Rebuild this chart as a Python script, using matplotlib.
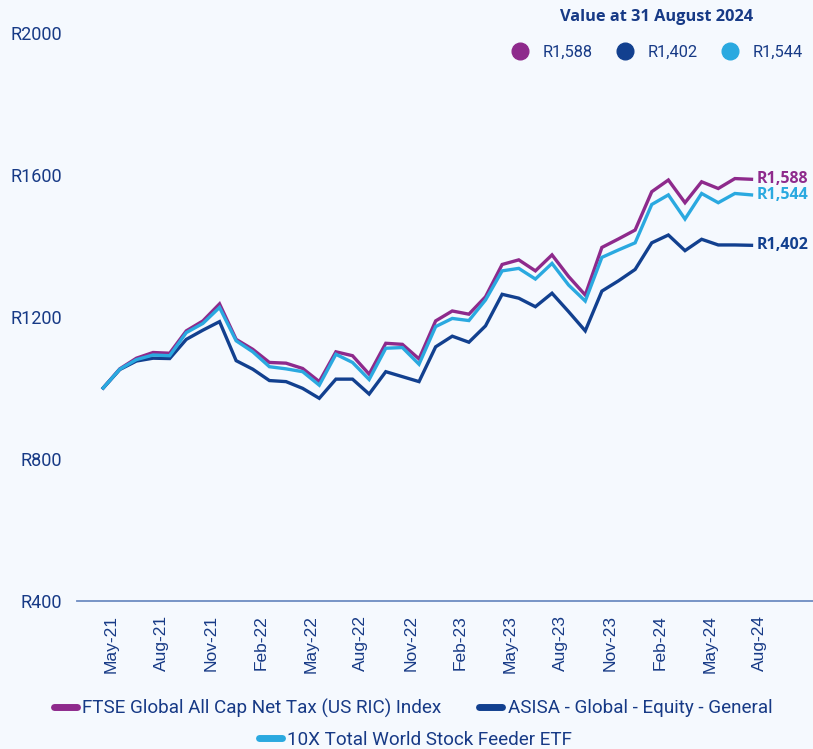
import matplotlib.pyplot as plt
from matplotlib.lines import Line2D

months = ['May-21', 'Jun-21', 'Jul-21', 'Aug-21', 'Sep-21', 'Oct-21', 'Nov-21', 'Dec-21',
          'Jan-22', 'Feb-22', 'Mar-22', 'Apr-22', 'May-22', 'Jun-22', 'Jul-22', 'Aug-22',
          'Sep-22', 'Oct-22', 'Nov-22', 'Dec-22', 'Jan-23', 'Feb-23', 'Mar-23', 'Apr-23',
          'May-23', 'Jun-23', 'Jul-23', 'Aug-23', 'Sep-23', 'Oct-23', 'Nov-23', 'Dec-23',
          'Jan-24', 'Feb-24', 'Mar-24', 'Apr-24', 'May-24', 'Jun-24', 'Jul-24', 'Aug-24']

ftse = [1000, 1054, 1084, 1100, 1098, 1161, 1189, 1237, 1137, 1109, 1072, 1070, 1055, 1018,
        1102, 1091, 1039, 1126, 1123, 1082, 1189, 1217, 1208, 1257, 1348, 1361, 1330, 1375,
        1314, 1262, 1396, 1420, 1445, 1553, 1586, 1522, 1581, 1562, 1590, 1588]
asisa = [1000, 1052, 1076, 1084, 1083, 1137, 1163, 1187, 1077, 1053, 1021, 1018, 999, 971,
         1025, 1025, 983, 1046, 1032, 1018, 1116, 1146, 1129, 1175, 1264, 1253, 1229, 1267,
         1215, 1161, 1273, 1302, 1334, 1409, 1431, 1387, 1419, 1403, 1403, 1402]
etf = [1000, 1053, 1080, 1093, 1091, 1156, 1182, 1227, 1133, 1102, 1060, 1054, 1046, 1008,
       1095, 1072, 1024, 1112, 1114, 1067, 1173, 1196, 1190, 1248, 1330, 1337, 1307, 1351,
       1290, 1245, 1368, 1389, 1409, 1517, 1544, 1476, 1548, 1522, 1548, 1544]

names = ['FTSE Global All Cap Net Tax (US RIC) Index',
         'ASISA - Global - Equity - General',
         '10X Total World Stock Feeder ETF']
yticks = [400, 800, 1200, 1600, 2000]

purple = '#8E2A8C'
navy = '#12408F'
cyan = '#2AA9E0'
text_col = '#173A86'
bg = '#F5F9FE'

plt.rcParams['font.family'] = ['Roboto', 'DejaVu Sans']

fig = plt.figure(figsize=(8.13, 7.49), dpi=100, facecolor=bg)
ax = fig.add_axes([0.095, 0.1976, 0.905, 0.7583], facecolor=bg)

x = list(range(len(months)))
series = [(ftse, purple), (asisa, navy), (etf, cyan)]
for (vals, col), name in zip(series, names):
    ax.plot(x, vals, color=col, lw=2.4, solid_joinstyle='miter', label=name)

ax.set_xlim(-1.56, 42.7)
ax.set_ylim(400, 2000)
ax.set_yticks(yticks)
ax.set_yticklabels([f'R{v}' for v in yticks], fontsize=13, color=text_col)
# labels sit a little right of the data points, as in the original
ax.set_xticks([i + 0.5 for i in x[::3]])
ax.set_xticklabels(months[::3], rotation=90, fontsize=12.5, color=text_col,
                   family=['Liberation Sans', 'DejaVu Sans'])
ax.tick_params(axis='x', length=0, pad=10)
ax.tick_params(axis='y', length=0, pad=11)
for s in ['top', 'right', 'left']:
    ax.spines[s].set_visible(False)
ax.spines['bottom'].set_color('#6D8CC2')
ax.spines['bottom'].set_linewidth(1.3)

# end labels
for vals, col in series:
    ax.annotate(f'R{vals[-1]:,}', (x[-1], vals[-1]), xytext=(4, 0), textcoords='offset points',
                va='center', ha='left', fontsize=11.5, fontweight='bold', color=col,
                family=['Open Sans', 'DejaVu Sans'])

# value legend top right
fig.text(657 / 813, 1 - 17 / 749, 'Value at 31 August 2024', ha='center', va='center',
         fontsize=11.8, fontweight='bold', color=text_col,
         family=['Open Sans', 'DejaVu Sans'])
handles = [Line2D([], [], ls='', marker='o', ms=12, color=col) for _, col in series]
ax.legend(handles, [f'R{v[-1]:,}' for v, _ in series], ncol=3, loc='center right',
          bbox_to_anchor=(1.0 - 2 / 813, 1 - 52 / 749), bbox_transform=fig.transFigure,
          frameon=False, handletextpad=0.4, columnspacing=0.95, fontsize=11.8,
          labelcolor=text_col, borderpad=0)

# bottom legend
lh = [Line2D([], [], color=col, lw=5, solid_capstyle='round') for _, col in series]
fig.legend(lh[:2], names[:2], ncol=2, loc='center', bbox_to_anchor=(0.508, 1 - 708 / 749),
           frameon=False, fontsize=13.6, labelcolor=text_col, handlelength=1.2,
           handletextpad=0.3, columnspacing=2.0, borderpad=0)
fig.legend(lh[2:], names[2:], loc='center', bbox_to_anchor=(0.511, 1 - 740 / 749),
           frameon=False, fontsize=13.6, labelcolor=text_col, handlelength=1.2,
           handletextpad=0.3, borderpad=0)

fig.savefig('out.png', dpi=100, facecolor=bg)
